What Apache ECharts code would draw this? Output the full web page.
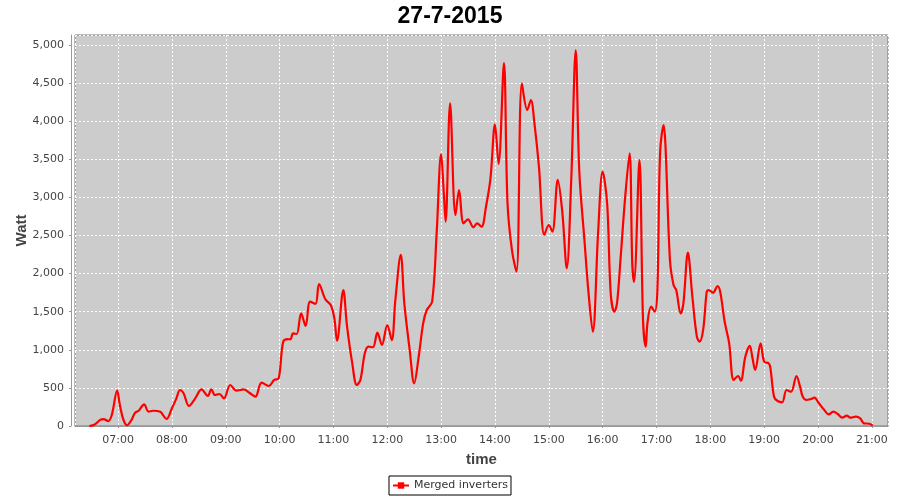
<!DOCTYPE html>
<html>
<head>
<meta charset="utf-8">
<script src="https://cdn.jsdelivr.net/npm/echarts@6/dist/echarts.min.js"></script>
<style>html,body{margin:0;padding:0;background:#fff}#c{width:900px;height:500px}</style>
</head>
<body>
<div id="c"></div>
<script>
const title = '27-7-2015';
const seriesName = 'Merged inverters';
const xName = 'time';
const yName = 'Watt';
const times = ['06:28','06:34','06:40','06:44','06:49','06:53','06:59','07:02','07:06','07:10','07:15','07:19','07:23','07:29','07:34','07:39','07:47','07:50','07:54','08:00','08:05','08:09','08:13','08:19','08:26','08:33','08:40','08:44','08:48','08:53','08:58','09:05','09:12','09:20','09:27','09:33','09:40','09:48','09:54','09:59','10:04','10:09','10:12','10:15','10:19','10:24','10:29','10:34','10:40','10:44','10:51','10:57','11:01','11:04','11:11','11:15','11:21','11:26','11:30','11:35','11:39','11:44','11:49','11:54','12:00','12:05','12:09','12:15','12:19','12:25','12:30','12:35','12:40','12:44','12:50','12:55','13:00','13:03','13:05','13:10','13:16','13:20','13:25','13:30','13:36','13:40','13:45','13:50','13:55','14:00','14:04','14:10','14:14','14:19','14:24','14:30','14:36','14:40','14:44','14:49','14:55','15:00','15:04','15:10','15:15','15:20','15:25','15:30','15:34','15:40','15:44','15:49','15:55','16:00','16:05','16:09','16:13','16:16','16:20','16:25','16:30','16:33','16:35','16:41','16:45','16:48','16:50','16:54','16:58','17:01','17:04','17:08','17:10','17:15','17:19','17:22','17:27','17:30','17:35','17:40','17:45','17:48','17:52','17:56','17:58','18:03','18:08','18:11','18:16','18:21','18:26','18:31','18:34','18:39','18:44','18:47','18:50','18:56','19:00','19:05','19:07','19:11','19:15','19:20','19:25','19:30','19:36','19:40','19:43','19:47','19:52','19:56','20:01','20:07','20:12','20:17','20:22','20:27','20:32','20:36','20:42','20:47','20:51','20:57','21:01'];
const watts = [0,20,80,90,65,145,463,275,80,10,80,175,200,285,188,200,188,145,92,232,363,472,429,262,363,481,394,481,407,420,363,538,463,481,429,385,568,525,604,626,1106,1141,1137,1216,1207,1478,1312,1631,1601,1863,1662,1587,1413,1119,1784,1325,822,538,604,954,1041,1033,1224,1063,1325,1128,1653,2244,1610,997,560,909,1347,1522,1631,2528,3569,3053,2681,4234,2768,3096,2659,2712,2607,2659,2615,2877,3250,3958,3440,4760,2922,2300,2025,4496,4146,4277,3971,3403,2506,2637,2550,3228,2812,2069,3228,4930,3337,2397,1784,1237,2550,3337,2922,1741,1500,1610,2200,2987,3578,2134,1893,3490,1391,1041,1355,1565,1500,1784,3578,3949,3687,2178,1850,1784,1478,1610,2274,1696,1172,1106,1260,1762,1784,1749,1837,1762,1368,1085,604,656,594,909,1050,888,735,1085,844,822,757,385,328,311,472,450,656,516,385,341,354,371,298,210,153,188,157,109,135,109,122,101,35,30,4];
const xMinTime = '06:12';
const xMaxTime = '21:18';
const yMin = 0;
const yMax = 5130;
const yStep = 500;

function ts(s){const p=s.split(':');return Date.UTC(2015,6,27,+p[0],+p[1]);}
const data = times.map((t,i)=>[ts(t), watts[i]]);
const font = 'Liberation Sans, Arial, sans-serif';
const tickFont = 'DejaVu Sans, sans-serif';
const chart = echarts.init(document.getElementById('c'), null, {renderer:'canvas'});
chart.setOption({
  useUTC: true,
  animation: false,
  backgroundColor: '#ffffff',
  title: {text: title, left: 'center', top: 0, textStyle: {fontFamily: font, fontSize: 23, fontWeight: 'bold', color: '#000'}},
  grid: {left: 75, right: 12, top: 35, bottom: 74, show: true, backgroundColor: '#cccccc', borderColor: '#777777', borderWidth: 1},
  legend: {data: [seriesName], bottom: 5, left: 'center', itemWidth: 16, itemHeight: 8, itemGap: 4, padding: [4,3,4,3], borderColor: '#000', borderWidth: 1, textStyle: {fontFamily: tickFont, fontSize: 11, color: '#333'}},
  xAxis: {
    type: 'time', min: ts(xMinTime), max: ts(xMaxTime), minInterval: 3600000, maxInterval: 3600000,
    name: xName, nameLocation: 'middle', nameGap: 22, nameMoveOverlap: false, nameTextStyle: {fontFamily: font, fontSize: 15, fontWeight: 'bold', color: '#444'},
    offset: 4,
    axisLine: {show: true, lineStyle: {color: '#999', width: 1}},
    axisTick: {show: true, length: 2, lineStyle: {color: '#999'}},
    axisLabel: {fontFamily: tickFont, fontSize: 11, color: '#444', margin: 5, showMinLabel: false, showMaxLabel: false,
      formatter: function(v){return echarts.time.format(v, '{HH}:{mm}', true);}},
    splitLine: {show: true, lineStyle: {color: '#ffffff', type: [2,2], width: 1}}
  },
  yAxis: {
    type: 'value', min: yMin, max: yMax, interval: yStep,
    name: yName, nameLocation: 'middle', nameGap: 42, nameMoveOverlap: false, nameRotate: 90, nameTextStyle: {fontFamily: font, fontSize: 15, fontWeight: 'bold', color: '#444'},
    offset: 4,
    axisLine: {show: true, lineStyle: {color: '#999', width: 1}},
    axisTick: {show: true, length: 2, lineStyle: {color: '#999'}},
    axisLabel: {fontFamily: tickFont, fontSize: 11, color: '#444', margin: 7, showMaxLabel: false,
      formatter: function(v){return v % yStep === 0 ? v.toLocaleString('en-US') : '';}},
    splitLine: {show: true, lineStyle: {color: '#ffffff', type: [2,2], width: 1}}
  },
  series: [{
    name: seriesName, type: 'line', data: data, smooth: 0.35, showSymbol: false, symbol: 'rect', symbolSize: 3,
    lineStyle: {color: '#ff0000', width: 2.2}, itemStyle: {color: '#ff0000'}
  }]
});
</script>
</body>
</html>
